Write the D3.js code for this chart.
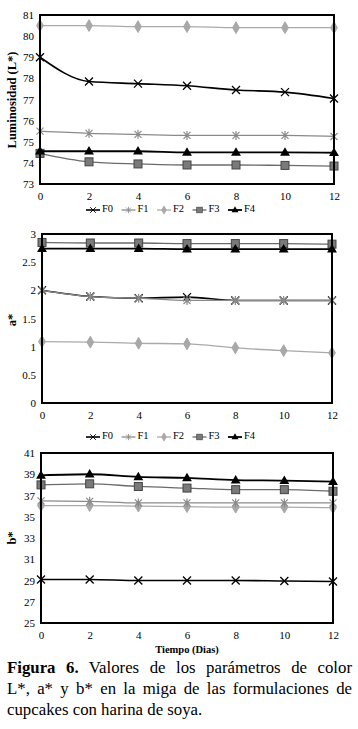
<!DOCTYPE html>
<html>
<head>
<meta charset="utf-8">
<script src="https://cdn.jsdelivr.net/npm/d3@7"></script>
<style>
  body { margin: 0; background: #fff; }
  #chart { display: block; }
  .caption {
    position: absolute; left: 7px; top: 657px; width: 345px;
    font-family: "Liberation Serif", "DejaVu Serif", serif;
    font-size: 16.8px; line-height: 21px; color: #000;
  }
  .caption div { white-space: nowrap; text-align: justify; text-align-last: justify; }
  .caption div.last { text-align-last: left; }
  .tick text { font-family: "Liberation Serif", "DejaVu Serif", serif; font-size: 11px; fill: #000; }
</style>
</head>
<body>
<svg id="chart" width="358" height="729"></svg>
<div class="caption">
  <div><b>Figura 6.</b> Valores de los parámetros de color</div>
  <div>L*, a* y b* en la miga de las formulaciones de</div>
  <div class="last">cupcakes con harina de soya.</div>
</div>
<script>
const dias = [0, 2, 4, 6, 8, 10, 12];
const formulaciones = ["F0", "F1", "F2", "F3", "F4"];

// Luminosidad L*
const lF0 = [79.0, 77.85, 77.75, 77.65, 77.45, 77.35, 77.05];
const lF1 = [75.5, 75.4, 75.35, 75.3, 75.3, 75.3, 75.25];
const lF2 = [80.5, 80.5, 80.45, 80.45, 80.4, 80.4, 80.4];
const lF3 = [74.45, 74.05, 73.95, 73.9, 73.9, 73.88, 73.85];
const lF4 = [74.55, 74.55, 74.55, 74.5, 74.5, 74.5, 74.48];

// a*
const aF0 = [2.0, 1.89, 1.86, 1.88, 1.82, 1.82, 1.82];
const aF1 = [2.0, 1.89, 1.86, 1.82, 1.82, 1.82, 1.82];
const aF2 = [1.09, 1.08, 1.06, 1.05, 0.98, 0.93, 0.89];
const aF3 = [2.85, 2.84, 2.84, 2.83, 2.83, 2.83, 2.82];
const aF4 = [2.74, 2.74, 2.74, 2.73, 2.73, 2.73, 2.73];

// b*
const bF0 = [29.1, 29.1, 29.0, 29.0, 29.0, 28.95, 28.9];
const bF1 = [36.5, 36.45, 36.3, 36.3, 36.3, 36.3, 36.3];
const bF2 = [36.05, 36.05, 36.0, 35.95, 35.9, 35.9, 35.85];
const bF3 = [38.0, 38.1, 37.85, 37.7, 37.55, 37.55, 37.4];
const bF4 = [38.9, 39.0, 38.75, 38.65, 38.45, 38.4, 38.3];

const lTicks = [73, 74, 75, 76, 77, 78, 79, 80, 81];
const aTicks = [0, 0.5, 1, 1.5, 2, 2.5, 3];
const bTicks = [25, 27, 29, 31, 33, 35, 37, 39, 41];

const estilos = {
  F0: { line: "#000", marker: "x", fill: "none", stroke: "#000", w: 1.6 },
  F1: { line: "#8a8a8a", marker: "star", fill: "none", stroke: "#8a8a8a", w: 1.3 },
  F2: { line: "#aaaaaa", marker: "diamond", fill: "#a8a8a8", stroke: "#a8a8a8", w: 1.3 },
  F3: { line: "#6b6b6b", marker: "square", fill: "#7a7a7a", stroke: "#444", w: 1.3 },
  F4: { line: "#000", marker: "triangle", fill: "#000", stroke: "#000", w: 1.8 }
};

const svg = d3.select("#chart");
const serif = "Liberation Serif, DejaVu Serif, serif";

function drawMarker(g, tipo, x, y, st) {
  if (tipo === "x") {
    g.append("path").attr("d", `M${x-4},${y-4}L${x+4},${y+4}M${x-4},${y+4}L${x+4},${y-4}`)
      .attr("stroke", st.stroke).attr("stroke-width", 1.3);
  } else if (tipo === "star") {
    g.append("path").attr("d", `M${x-3.5},${y-3.5}L${x+3.5},${y+3.5}M${x-3.5},${y+3.5}L${x+3.5},${y-3.5}M${x},${y-4.5}L${x},${y+4.5}`)
      .attr("stroke", st.stroke).attr("stroke-width", 1.2);
  } else if (tipo === "diamond") {
    g.append("path").attr("d", d3.symbol(d3.symbolDiamond, 40)()).attr("transform", `translate(${x},${y})`)
      .attr("fill", st.fill).attr("stroke", st.stroke);
  } else if (tipo === "square") {
    g.append("rect").attr("x", x - 4).attr("y", y - 4).attr("width", 8).attr("height", 8)
      .attr("fill", st.fill).attr("stroke", st.stroke).attr("stroke-width", 1);
  } else if (tipo === "triangle") {
    g.append("path").attr("d", d3.symbol(d3.symbolTriangle, 42)()).attr("transform", `translate(${x},${y + 0.5})`)
      .attr("fill", st.fill);
  }
}

function panel(cfg) {
  const { left, top, width, height, domain, ticks, fmt, series, title, titleY } = cfg;
  const g = svg.append("g").attr("transform", `translate(${left},${top})`);
  const x = d3.scaleLinear().domain([0, 12]).range([0, width]);
  const y = d3.scaleLinear().domain(domain).range([height, 0]);

  g.append("g").attr("transform", `translate(0,${height})`)
    .call(d3.axisBottom(x).tickValues(dias).tickSize(0).tickPadding(8))
    .call(a => a.select(".domain").remove());
  g.append("g")
    .call(d3.axisLeft(y).tickValues(ticks).tickFormat(fmt).tickSize(0).tickPadding(6))
    .call(a => a.select(".domain").remove());

  const line = d3.line().x((d, i) => x(dias[i])).y(d => y(d)).curve(d3.curveMonotoneX);
  series.forEach(([nombre, valores]) => {
    const st = estilos[nombre];
    g.append("path").datum(valores).attr("d", line)
      .attr("fill", "none").attr("stroke", st.line).attr("stroke-width", st.w);
    const mg = g.append("g");
    valores.forEach((v, i) => drawMarker(mg, st.marker, x(dias[i]), y(v), st));
  });

  g.append("rect").attr("width", width).attr("height", height)
    .attr("fill", "none").attr("stroke", "#000").attr("stroke-width", 2);

  svg.append("text")
    .attr("transform", `translate(13,${titleY}) rotate(-90)`)
    .attr("text-anchor", "middle").attr("dominant-baseline", "middle")
    .attr("font-family", serif).attr("font-weight", "bold").attr("font-size", 12.5)
    .text(title);
}

function legend(yPos) {
  const lg = svg.append("g").attr("transform", `translate(0,${yPos})`);
  const xs = d3.scalePoint().domain(formulaciones).range([86, 228]);
  formulaciones.forEach(f => {
    const st = estilos[f];
    const x0 = xs(f);
    lg.append("line").attr("x1", x0).attr("x2", x0 + 14).attr("y1", 0).attr("y2", 0)
      .attr("stroke", st.line).attr("stroke-width", st.w);
    const mg = lg.append("g").attr("transform", `translate(${x0 + 7},0) scale(0.7) translate(${-(x0 + 7)},0)`);
    drawMarker(mg, st.marker, x0 + 7, 0, st);
    lg.append("text").attr("x", x0 + 16).attr("y", 0).attr("dominant-baseline", "middle")
      .attr("font-family", serif).attr("font-size", 10.5).text(f);
  });
}

panel({
  left: 40, top: 15, width: 294, height: 169, domain: [73, 81], ticks: lTicks, fmt: d3.format("d"),
  series: [["F2", lF2], ["F1", lF1], ["F3", lF3], ["F4", lF4], ["F0", lF0]],
  title: "Luminosidad (L*)", titleY: 100
});
legend(210);

panel({
  left: 42, top: 234, width: 290, height: 169, domain: [0, 3], ticks: aTicks, fmt: d => d,
  series: [["F2", aF2], ["F3", aF3], ["F4", aF4], ["F0", aF0], ["F1", aF1]],
  title: "a*", titleY: 320
});
legend(437);

panel({
  left: 41, top: 453, width: 292, height: 170, domain: [25, 41], ticks: bTicks, fmt: d3.format("d"),
  series: [["F0", bF0], ["F2", bF2], ["F1", bF1], ["F3", bF3], ["F4", bF4]],
  title: "b*", titleY: 538
});

svg.append("text").attr("x", 187).attr("y", 651).attr("text-anchor", "middle")
  .attr("dominant-baseline", "middle")
  .attr("font-family", serif).attr("font-weight", "bold").attr("font-size", 10.5)
  .text("Tiempo (Dias)");
</script>
</body>
</html>
